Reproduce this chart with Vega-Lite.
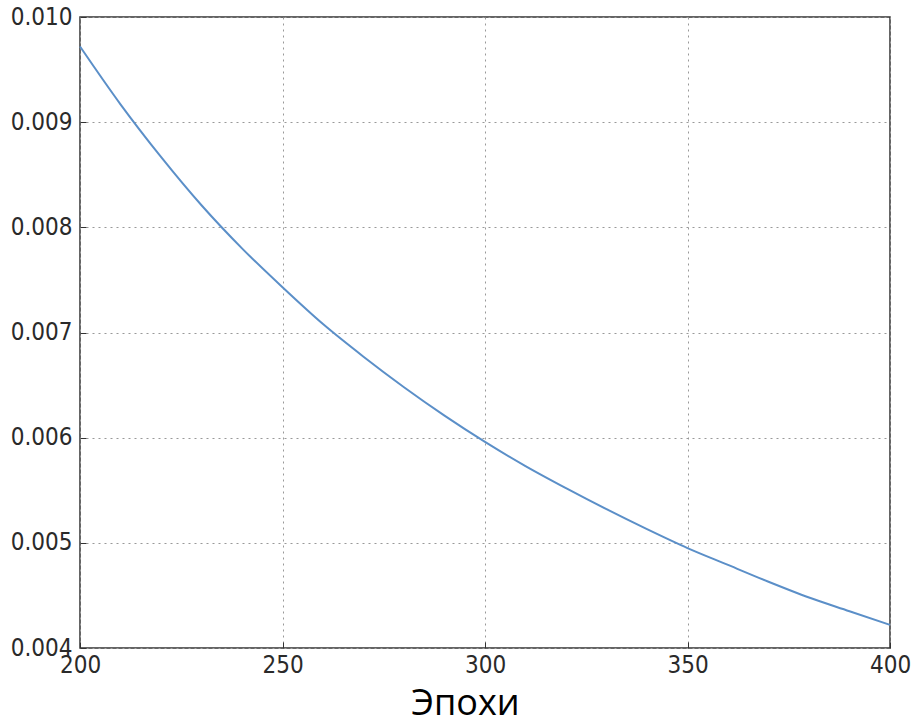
{
  "$schema": "https://vega.github.io/schema/vega-lite/v6.json",
  "width": 810,
  "height": 631,
  "autosize": {"type": "none"},
  "padding": {"left": 80, "top": 17, "right": 24, "bottom": 73},
  "background": "white",
  "config": {
    "view": {"stroke": "#333333", "strokeWidth": 1.5},
    "axis": {
      "domain": false,
      "grid": true,
      "gridColor": "#999999",
      "gridDash": [2, 4],
      "gridWidth": 1,
      "ticks": true,
      "tickSize": -6,
      "tickColor": "#333333",
      "labelFont": "DejaVu Sans Condensed",
      "labelFontSize": 24,
      "labelColor": "#2a2a2a",
      "labelFlush": false,
      "labelOverlap": false
    }
  },
  "data": {
    "values": [
      {"epoch": 200, "value": 0.00972},
      {"epoch": 210, "value": 0.00917},
      {"epoch": 220, "value": 0.00867},
      {"epoch": 230, "value": 0.00821},
      {"epoch": 240, "value": 0.00780},
      {"epoch": 250, "value": 0.00743},
      {"epoch": 260, "value": 0.00708},
      {"epoch": 270, "value": 0.00677},
      {"epoch": 280, "value": 0.00648},
      {"epoch": 290, "value": 0.00621},
      {"epoch": 300, "value": 0.00596},
      {"epoch": 310, "value": 0.00573},
      {"epoch": 320, "value": 0.00552},
      {"epoch": 330, "value": 0.00532},
      {"epoch": 340, "value": 0.00513},
      {"epoch": 350, "value": 0.00495},
      {"epoch": 360, "value": 0.00479},
      {"epoch": 370, "value": 0.00463},
      {"epoch": 380, "value": 0.00448},
      {"epoch": 390, "value": 0.00435},
      {"epoch": 400, "value": 0.00422}
    ]
  },
  "mark": {"type": "line", "color": "#5b8fc8", "strokeWidth": 2, "interpolate": "monotone"},
  "encoding": {
    "x": {
      "field": "epoch",
      "type": "quantitative",
      "scale": {"domain": [200, 400], "nice": false, "zero": false},
      "axis": {
        "values": [200, 250, 300, 350, 400],
        "format": "d",
        "title": "Эпохи",
        "titleFont": "Open Sans",
        "titleFontSize": 36,
        "titleFontWeight": "normal",
        "titleColor": "#000000",
        "titleX": 385,
        "titleY": 66,
        "titleAlign": "center",
        "titleBaseline": "alphabetic",
        "labelPadding": 11
      }
    },
    "y": {
      "field": "value",
      "type": "quantitative",
      "scale": {"domain": [0.004, 0.010], "nice": false, "zero": false},
      "axis": {
        "values": [0.004, 0.005, 0.006, 0.007, 0.008, 0.009, 0.010],
        "format": ".3f",
        "title": null,
        "labelPadding": 14
      }
    }
  }
}
